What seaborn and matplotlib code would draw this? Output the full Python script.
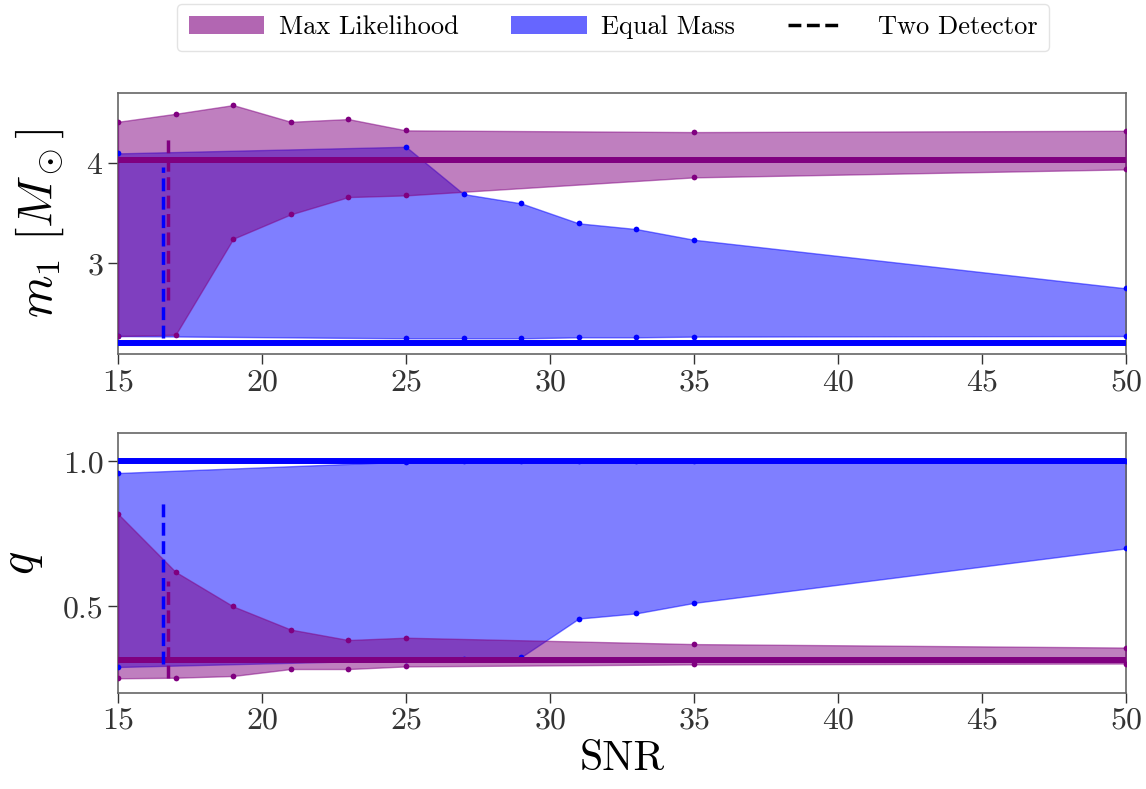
import numpy as np
import pandas as pd
import matplotlib
matplotlib.use("Agg")
import matplotlib.pyplot as plt
import seaborn as sns
from matplotlib.patches import Patch
from matplotlib.lines import Line2D

# ---------------- data ----------------
snr_ml = [15, 17, 19, 21, 23, 25, 35, 50]
m1_ml_hi = [4.416, 4.496, 4.583, 4.416, 4.443, 4.33, 4.313, 4.326]
m1_ml_lo = [2.273, 2.286, 3.246, 3.49, 3.663, 3.68, 3.86, 3.94]
q_ml_hi = [0.819, 0.619, 0.50, 0.42, 0.384, 0.392, 0.370, 0.358]
q_ml_lo = [0.252, 0.254, 0.260, 0.284, 0.284, 0.293, 0.300, 0.303]

snr_em = [15, 25, 27, 29, 31, 33, 35, 50]
m1_em_hi = [4.10, 4.166, 3.693, 3.60, 3.40, 3.343, 3.236, 2.75]
m1_em_lo = [2.273, 2.25, 2.25, 2.25, 2.26, 2.26, 2.267, 2.273]
q_em_hi = [0.96, 0.999, 1.0, 1.0, 1.0, 1.0, 1.0, 1.0]
q_em_lo = [0.291, 0.315, 0.32, 0.325, 0.458, 0.476, 0.512, 0.70]

true_m1_ml, true_m1_em = 4.033, 2.20
true_q_ml, true_q_em = 0.316, 1.0

# two-detector reference (x position, y span)
td_x_em, td_x_ml = 16.57, 16.72
td_m1_em = [2.25, 3.966]
td_m1_ml = [2.633, 4.283]
td_q_em = [0.303, 0.866]
td_q_ml = [0.254, 0.589]

labels = ["Max Likelihood", "Equal Mass", "Two Detector"]

# ---------------- style ----------------
sns.set_style("ticks")
plt.rcParams["font.family"] = ["cmr10", "DejaVu Serif"]
plt.rcParams["mathtext.fontset"] = "cm"
plt.rcParams["axes.formatter.use_mathtext"] = True
plt.rcParams["axes.edgecolor"] = "#666666"
plt.rcParams["xtick.color"] = "#333333"
plt.rcParams["ytick.color"] = "#333333"
plt.rcParams["text.color"] = "black"
plt.rcParams["axes.labelcolor"] = "black"

PURPLE = "purple"
BLUE = "blue"

fig = plt.figure(figsize=(11.46, 7.89), dpi=100)
ax1 = fig.add_axes([0.103, 0.5513, 0.8795, 0.3307])
ax2 = fig.add_axes([0.103, 0.1217, 0.8795, 0.3295])

df_ml = pd.DataFrame({"snr": snr_ml, "m1_hi": m1_ml_hi, "m1_lo": m1_ml_lo,
                      "q_hi": q_ml_hi, "q_lo": q_ml_lo})
df_em = pd.DataFrame({"snr": snr_em, "m1_hi": m1_em_hi, "m1_lo": m1_em_lo,
                      "q_hi": q_em_hi, "q_lo": q_em_lo})


def panel(ax, key, true_ml, true_em, td_em, td_ml):
    ax.fill_between(df_em["snr"], df_em[key + "_lo"], df_em[key + "_hi"],
                    color=BLUE, alpha=0.5, lw=1, zorder=2)
    ax.fill_between(df_ml["snr"], df_ml[key + "_lo"], df_ml[key + "_hi"],
                    color=PURPLE, alpha=0.5, lw=1, zorder=3)
    for df, c in ((df_em, BLUE), (df_ml, PURPLE)):
        for col in (key + "_hi", key + "_lo"):
            sns.scatterplot(data=df, x="snr", y=col, color=c, s=17,
                            edgecolor=c, linewidth=0, ax=ax, zorder=4)
    ax.axhline(true_ml, color=PURPLE, lw=4.3, zorder=5)
    ax.axhline(true_em, color=BLUE, lw=4.3, zorder=5)
    ax.plot([td_x_em, td_x_em], td_em, color=BLUE, ls="--", lw=2.5, zorder=6)
    ax.plot([td_x_ml, td_x_ml], td_ml, color=PURPLE, ls="--", lw=2.5, zorder=6)
    ax.set_xlim(15, 50)
    ax.set_xticks([15, 20, 25, 30, 35, 40, 45, 50])
    ax.tick_params(axis="both", labelsize=23, length=7, width=1, direction="out")
    ax.set_xlabel("")
    ax.set_ylabel("")
    for s in ax.spines.values():
        s.set_visible(True)
        s.set_linewidth(1.2)


panel(ax1, "m1", true_m1_ml, true_m1_em, td_m1_em, td_m1_ml)
ax1.set_ylim(2.093, 4.703)
ax1.set_yticks([3, 4])
ax1.set_ylabel(r"$m_1\ [M_\odot]$", fontsize=35)

panel(ax2, "q", true_q_ml, true_q_em, td_q_em, td_q_ml)
ax2.set_ylim(0.2014, 1.098)
ax2.set_yticks([0.5, 1.0])
ax2.set_yticklabels(["0.5", "1.0"])
ax2.set_ylabel(r"$q$", fontsize=35)
ax2.set_xlabel("SNR", fontsize=30)

ax1.yaxis.set_label_coords(-0.052, 0.5)
ax2.yaxis.set_label_coords(-0.072, 0.5)

dash_handle = Line2D([0], [0], color="black", lw=2.5)
dash_handle.set_dashes([3.7, 1.6, 3.7, 1.6, 3.7, 12])
handles = [Patch(facecolor=PURPLE, alpha=0.6, edgecolor="none"),
           Patch(facecolor=BLUE, alpha=0.6, edgecolor="none"),
           dash_handle]
fig.legend(handles, labels, loc="center", bbox_to_anchor=(0.535, 0.965),
           ncol=3, fontsize=19, frameon=True, fancybox=True,
           edgecolor="#dddddd", handlelength=2.85, columnspacing=2.0,
           handletextpad=0.55, borderpad=0.45)

fig.savefig("out.png", dpi=100)
